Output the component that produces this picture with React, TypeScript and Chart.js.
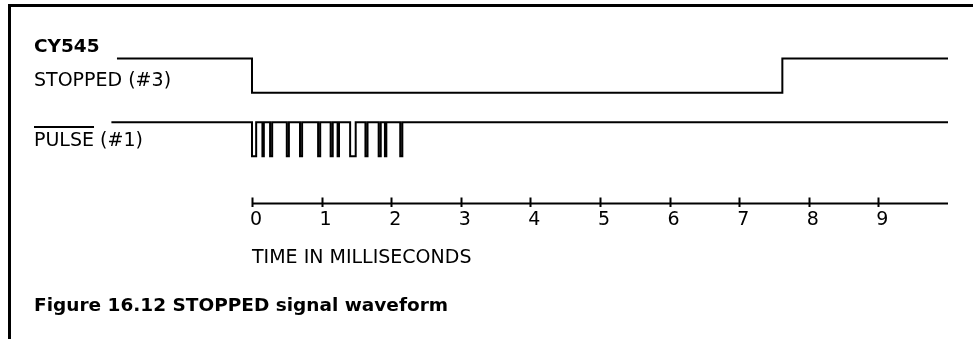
import React, { useEffect, useRef } from "react";
import { Chart, registerables } from "chart.js";

Chart.register(...registerables);

// ---- data (times in milliseconds, logic levels 1 = high, 0 = low) ----
const tickValues = [0, 1, 2, 3, 4, 5, 6, 7, 8, 9];
const axisStart = 0;
const axisEnd = 10;

const stoppedTimes = [-1.94, 0, 7.62, 10];
const stoppedLevels = [1, 0, 1, 1];

const pulseTimes = [
  -2.02, 0.0, 0.06, 0.15, 0.17, 0.26, 0.29, 0.5, 0.53, 0.69, 0.72, 0.95, 0.98,
  1.13, 1.16, 1.23, 1.25, 1.41, 1.49, 1.63, 1.66, 1.82, 1.85, 1.91, 1.93, 2.13,
  2.16, 10,
];
const pulseLevels = [
  1, 0, 1, 0, 1, 0, 1, 0, 1, 0, 1, 0, 1, 0, 1, 0, 1, 0, 1, 0, 1, 0, 1, 0, 1, 0,
  1, 1,
];

// track placement on the hidden y scale (layout, not data)
const STOPPED_BASE = 3.25;
const PULSE_BASE = 1.38;

const FONT = "'DejaVu Sans', sans-serif";

const axisPlugin = {
  id: "timeAxis",
  afterDatasetsDraw(chart: any) {
    const { ctx } = chart;
    const xs = chart.scales.x;
    const ys = chart.scales.y;
    const y0 = ys.getPixelForValue(0);
    ctx.save();
    ctx.strokeStyle = "#000";
    ctx.lineWidth = 2;
    ctx.beginPath();
    ctx.moveTo(xs.getPixelForValue(axisStart), y0);
    ctx.lineTo(xs.getPixelForValue(axisEnd), y0);
    ctx.stroke();
    ctx.beginPath();
    for (const v of tickValues) {
      const px = Math.round(xs.getPixelForValue(v)) + 0.5;
      ctx.moveTo(px, y0 - 6);
      ctx.lineTo(px, y0 + 3.5);
    }
    ctx.stroke();
    ctx.restore();
  },
};

export default function App() {
  const canvasRef = useRef<HTMLCanvasElement | null>(null);

  useEffect(() => {
    const canvas = canvasRef.current;
    if (!canvas) return;
    const stoppedData = stoppedTimes.map((t, i) => ({ x: t, y: STOPPED_BASE + stoppedLevels[i] }));
    const pulseData = pulseTimes.map((t, i) => ({ x: t, y: PULSE_BASE + pulseLevels[i] }));
    const chart = new Chart(canvas, {
      type: "line",
      data: {
        datasets: [
          {
            label: "STOPPED (#3)",
            data: stoppedData,
            borderColor: "#000",
            borderWidth: 2,
            pointRadius: 0,
            stepped: true,
            fill: false,
            clip: false,
          } as any,
          {
            label: "PULSE (#1)",
            data: pulseData,
            borderColor: "#000",
            borderWidth: 2,
            pointRadius: 0,
            stepped: true,
            fill: false,
            clip: false,
          } as any,
        ],
      },
      options: {
        animation: false,
        responsive: false,
        devicePixelRatio: 1,
        events: [],
        layout: { padding: { left: 111.4, right: 25, top: 33, bottom: 101.6 } },
        plugins: { legend: { display: false }, title: { display: false }, tooltip: { enabled: false } },
        scales: {
          x: {
            type: "linear",
            min: -2.02,
            max: 10,
            position: "bottom",
            grid: { display: false, drawTicks: false },
            border: { display: false },
            afterBuildTicks: (axis: any) => {
              axis.ticks = tickValues.map((v) => ({ value: v }));
            },
            ticks: {
              autoSkip: false,
              maxRotation: 0,
              minRotation: 0,
              padding: 5.6,
              labelOffset: 4,
              color: "#000",
              font: { family: FONT, size: 19 },
              callback: (v: any) => String(v),
            },
          },
          y: {
            type: "linear",
            display: false,
            min: 0,
            max: 5,
          },
        },
      },
      plugins: [axisPlugin],
    } as any);
    return () => chart.destroy();
  }, []);

  const textBase: React.CSSProperties = {
    position: "absolute",
    margin: 0,
    whiteSpace: "nowrap",
    color: "#000",
    fontFamily: FONT,
    lineHeight: 1,
  };

  return (
    <div style={{ position: "absolute", left: 0, top: 0, width: 973, height: 339, background: "#fff", overflow: "hidden" }}>
      <canvas
        ref={canvasRef}
        width={973}
        height={339}
        style={{ position: "absolute", left: 0, top: 0, width: 973, height: 339 }}
      />
      <div
        style={{
          position: "absolute",
          left: 8,
          top: 4,
          width: 980,
          height: 360,
          borderTop: "3px solid #000",
          borderLeft: "3px solid #000",
          boxSizing: "border-box",
        }}
      />
      <div style={{ ...textBase, left: 34, top: 36.5, fontSize: 18.5, fontWeight: "bold" }}>CY545</div>
      <div style={{ ...textBase, left: 34, top: 69.5, fontSize: 19 }}>STOPPED (#3)</div>
      <div style={{ ...textBase, left: 34, top: 130, fontSize: 19 }}>
        <span style={{ textDecoration: "overline", textDecorationThickness: "2px" }}>PULSE</span> (#1)
      </div>
      <div style={{ ...textBase, left: 252, top: 247, fontSize: 19 }}>TIME IN MILLISECONDS</div>
      <div style={{ ...textBase, left: 34, top: 296.3, fontSize: 18.5, fontWeight: "bold" }}>
        Figure 16.12 STOPPED signal waveform
      </div>
    </div>
  );
}
